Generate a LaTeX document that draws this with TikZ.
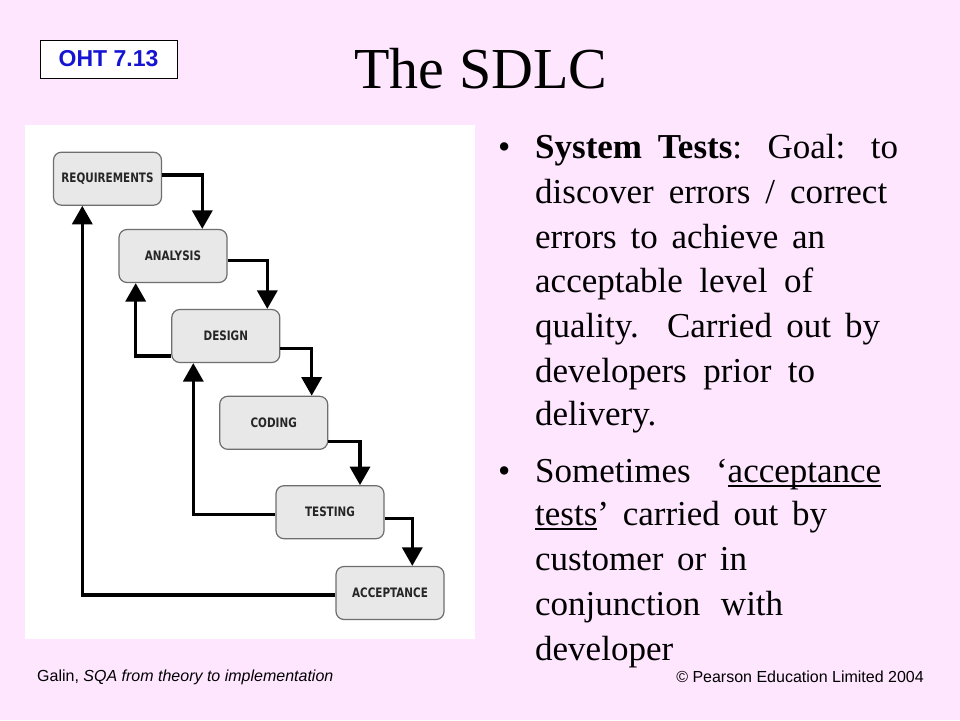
\documentclass[tikz,border=0pt]{standalone}
\usepackage{fontspec}
\setmainfont{Liberation Serif}
\newfontfamily\arialf{Liberation Sans}
\newfontfamily\boxf{DejaVu Sans}
\usepackage{graphicx}
\usetikzlibrary{arrows.meta}
\definecolor{bgpink}{RGB}{255,230,255}
\definecolor{ohtblue}{RGB}{20,20,210}
\definecolor{boxfill}{RGB}{232,232,232}
\definecolor{boxline}{RGB}{110,110,110}
\newcommand\myul[1]{\setbox0\hbox{#1}\rlap{\rule[-5pt]{\wd0}{1.8pt}}#1}
\newcommand\bxt[1]{\scalebox{0.8}[1]{#1}}
\begin{document}
\begin{tikzpicture}[x=1pt,y=-1pt,
  phase/.style={draw=boxline, line width=1.2pt, fill=boxfill, rounded corners=8pt,
    minimum width=108pt, minimum height=53pt, inner sep=0pt,
    font=\boxf\bfseries\fontsize{13}{13}\selectfont, text=black!85},
  flow/.style={line width=3.4pt, -{Triangle[width=20pt,length=18.5pt]}},
  bodytext/.style={anchor=base west, inner sep=0pt, font=\fontsize{35}{44}\selectfont},
  foot/.style={inner sep=0pt, font=\arialf\fontsize{16}{16}\selectfont}
]
% background and page
\fill[bgpink] (0,0) rectangle (960,720);
% OHT label
\node[draw=black, line width=1pt, fill=white, minimum width=137pt, minimum height=38pt,
  inner sep=0pt, text=ohtblue, font=\arialf\bfseries\fontsize{23}{23}\selectfont]
  (oht) at (108.5,59) {OHT 7.13};
% title
\node[anchor=base, inner sep=0pt, font=\fontsize{58}{58}\selectfont] (title) at (481,88) {The SDLC};
% diagram panel
\fill[white] (25,125) rectangle (475,639);
% phases
\node[phase] (req) at (107.5,178.7) {\bxt{REQUIREMENTS}};
\node[phase] (ana) at (173,256) {\bxt{ANALYSIS}};
\node[phase] (des) at (225.8,336) {\bxt{DESIGN}};
\node[phase] (cod) at (273.7,422.8) {\bxt{CODING}};
\node[phase] (tes) at (330,512.2) {\bxt{TESTING}};
\node[phase] (acc) at (390,593) {\bxt{ACCEPTANCE}};
% forward flow
\draw[flow] ([yshift=3.7pt]req.east) -| ([xshift=29.3pt]ana.north);
\draw[flow] ([yshift=-4.7pt]ana.east) -| ([xshift=41.5pt]des.north);
\draw[flow] ([yshift=-12.7pt]des.east) -| ([xshift=38pt]cod.north);
\draw[flow] ([yshift=-18.9pt]cod.east) -| ([xshift=30pt]tes.north);
\draw[flow] ([yshift=-6pt]tes.east) -| ([xshift=22.3pt]acc.north);
% feedback
\draw[flow] ([yshift=-20pt]des.west) -| ([xshift=-37.3pt]ana.south);
\draw[flow] ([yshift=-2pt]tes.west) -| ([xshift=-32.5pt]des.south);
\draw[flow] ([yshift=-2pt]acc.west) -| ([xshift=-25.2pt]req.south);
% bullet text 1
\node[bodytext] (bul1) at (498,158) {•};
\node[bodytext] (p1a) at (535,158) {\makebox[363pt][s]{\textbf{System Tests}:  Goal:  to}};
\node[bodytext] (p1b) at (535,203) {\makebox[352pt][s]{discover errors / correct}};
\node[bodytext] (p1c) at (535,248) {\makebox[290pt][s]{errors to achieve an}};
\node[bodytext] (p1d) at (535,292) {\makebox[278pt][s]{acceptable level of}};
\node[bodytext] (p1e) at (535,337) {\makebox[345pt][s]{quality.  Carried out by}};
\node[bodytext] (p1f) at (535,382) {\makebox[280pt][s]{developers prior to}};
\node[bodytext] (p1g) at (535,425) {delivery.};
% bullet text 2
\node[bodytext] (bul2) at (498,482) {•};
\node[bodytext] (p2a) at (535,482) {\makebox[346pt][s]{Sometimes ‘\myul{acceptance}}};
\node[bodytext] (p2b) at (535,525) {\makebox[292pt][s]{\myul{tests}’ carried out by}};
\node[bodytext] (p2c) at (535,570) {\makebox[212pt][s]{customer or in}};
\node[bodytext] (p2d) at (535,615) {\makebox[248pt][s]{conjunction with}};
\node[bodytext] (p2e) at (535,660) {developer};
% footers
\node[foot, anchor=base west] (galin) at (37,681) {Galin, \textit{SQA from theory to implementation}};
\node[foot, anchor=base east] (pearson) at (924,682) {© Pearson Education Limited 2004};
\end{tikzpicture}
\end{document}
